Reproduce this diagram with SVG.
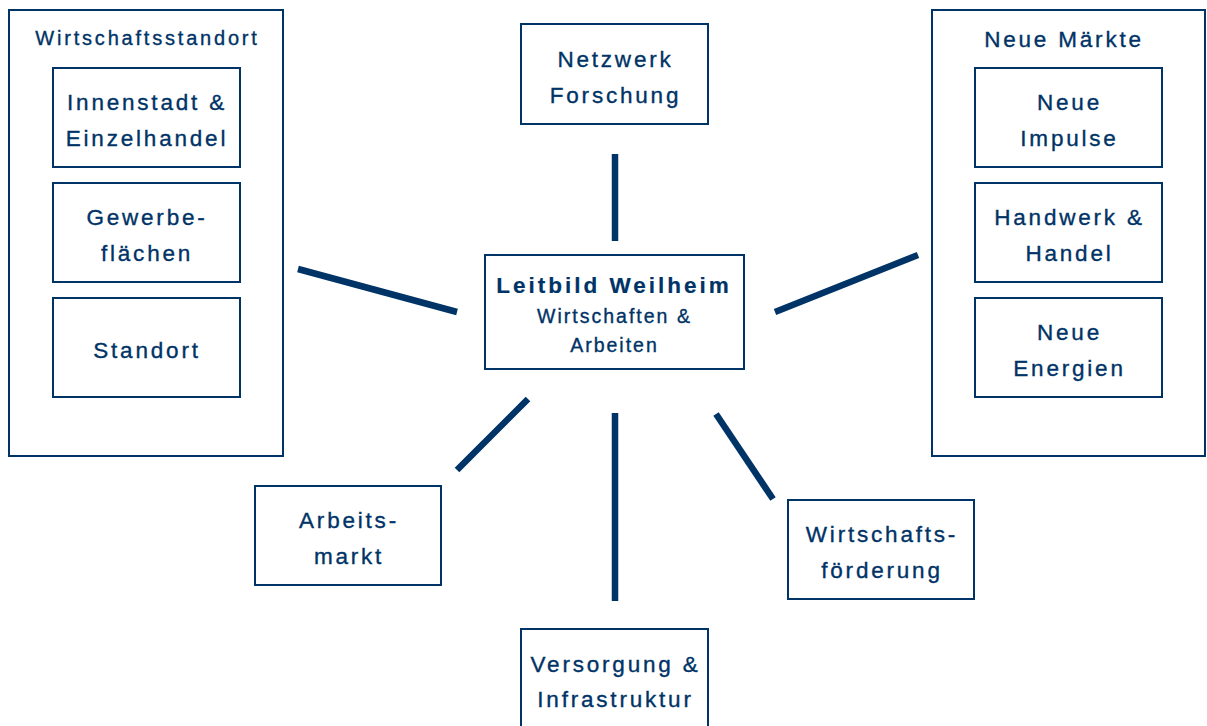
<svg xmlns="http://www.w3.org/2000/svg" width="1207" height="726" viewBox="0 0 1207 726">
<style>
.box{fill:#fff;stroke:#003366;stroke-width:2}
.t{font-family:"Liberation Sans",Arial,sans-serif;font-size:22.5px;letter-spacing:2.8px;fill:#003366;stroke:#003366;stroke-width:0.35px;text-anchor:middle}
.h{font-size:20px;letter-spacing:2.8px}
.b{font-weight:bold;letter-spacing:3px;stroke-width:0.2px}
.s{font-size:19.5px;letter-spacing:2px}
.c{stroke:#003366;stroke-width:6.5;fill:none}
</style>
<rect width="1207" height="726" fill="#fff"/>
<g id="connectors">
<line class="c" x1="615" y1="154" x2="615" y2="241"/>
<line class="c" x1="298" y1="269" x2="457" y2="312"/>
<line class="c" x1="775" y1="312" x2="918" y2="255"/>
<line class="c" x1="528" y1="399" x2="457" y2="470"/>
<line class="c" x1="615" y1="413" x2="615" y2="601"/>
<line class="c" x1="716" y1="414" x2="773" y2="499"/>
</g>
<g id="wirtschaftsstandort">
<rect class="box" x="9" y="10" width="274" height="446"/>
<text class="t h" x="147.5" y="44.5">Wirtschaftsstandort</text>
</g>
<g id="innenstadt">
<rect class="box" x="53" y="68" width="187" height="99"/>
<text class="t" x="147" y="110">Innenstadt &amp;</text>
<text class="t" x="147" y="146">Einzelhandel</text>
</g>
<g id="gewerbe">
<rect class="box" x="53" y="183" width="187" height="99"/>
<text class="t" x="147" y="225">Gewerbe-</text>
<text class="t" x="147" y="261">flächen</text>
</g>
<g id="standort">
<rect class="box" x="53" y="298" width="187" height="99"/>
<text class="t" x="147" y="358">Standort</text>
</g>
<g id="netzwerk">
<rect class="box" x="521" y="24" width="187" height="100"/>
<text class="t" x="615.5" y="67">Netzwerk</text>
<text class="t" x="615.5" y="103">Forschung</text>
</g>
<g id="leitbild">
<rect class="box" x="485" y="255" width="259" height="114"/>
<text class="t b" x="614" y="293">Leitbild Weilheim</text>
<text class="t s" x="614.5" y="323">Wirtschaften &amp;</text>
<text class="t s" x="614.5" y="352">Arbeiten</text>
</g>
<g id="neue-maerkte">
<rect class="box" x="932" y="10" width="273" height="446"/>
<text class="t" x="1064" y="46.5">Neue Märkte</text>
</g>
<g id="neue-impulse">
<rect class="box" x="975" y="68" width="187" height="99"/>
<text class="t" x="1069.5" y="110">Neue</text>
<text class="t" x="1069.5" y="146">Impulse</text>
</g>
<g id="handwerk">
<rect class="box" x="975" y="183" width="187" height="99"/>
<text class="t" x="1069.5" y="225">Handwerk &amp;</text>
<text class="t" x="1069.5" y="261">Handel</text>
</g>
<g id="neue-energien">
<rect class="box" x="975" y="298" width="187" height="99"/>
<text class="t" x="1069.5" y="340">Neue</text>
<text class="t" x="1069.5" y="376">Energien</text>
</g>
<g id="arbeitsmarkt">
<rect class="box" x="255" y="486" width="186" height="99"/>
<text class="t" x="349" y="528">Arbeits-</text>
<text class="t" x="349" y="564">markt</text>
</g>
<g id="wirtschaftsfoerderung">
<rect class="box" x="788" y="500" width="186" height="99"/>
<text class="t" x="882" y="542">Wirtschafts-</text>
<text class="t" x="882" y="578">förderung</text>
</g>
<g id="versorgung">
<rect class="box" x="521" y="629" width="187" height="100"/>
<text class="t" x="615.5" y="672">Versorgung &amp;</text>
<text class="t" x="615.5" y="707">Infrastruktur</text>
</g>
</svg>
